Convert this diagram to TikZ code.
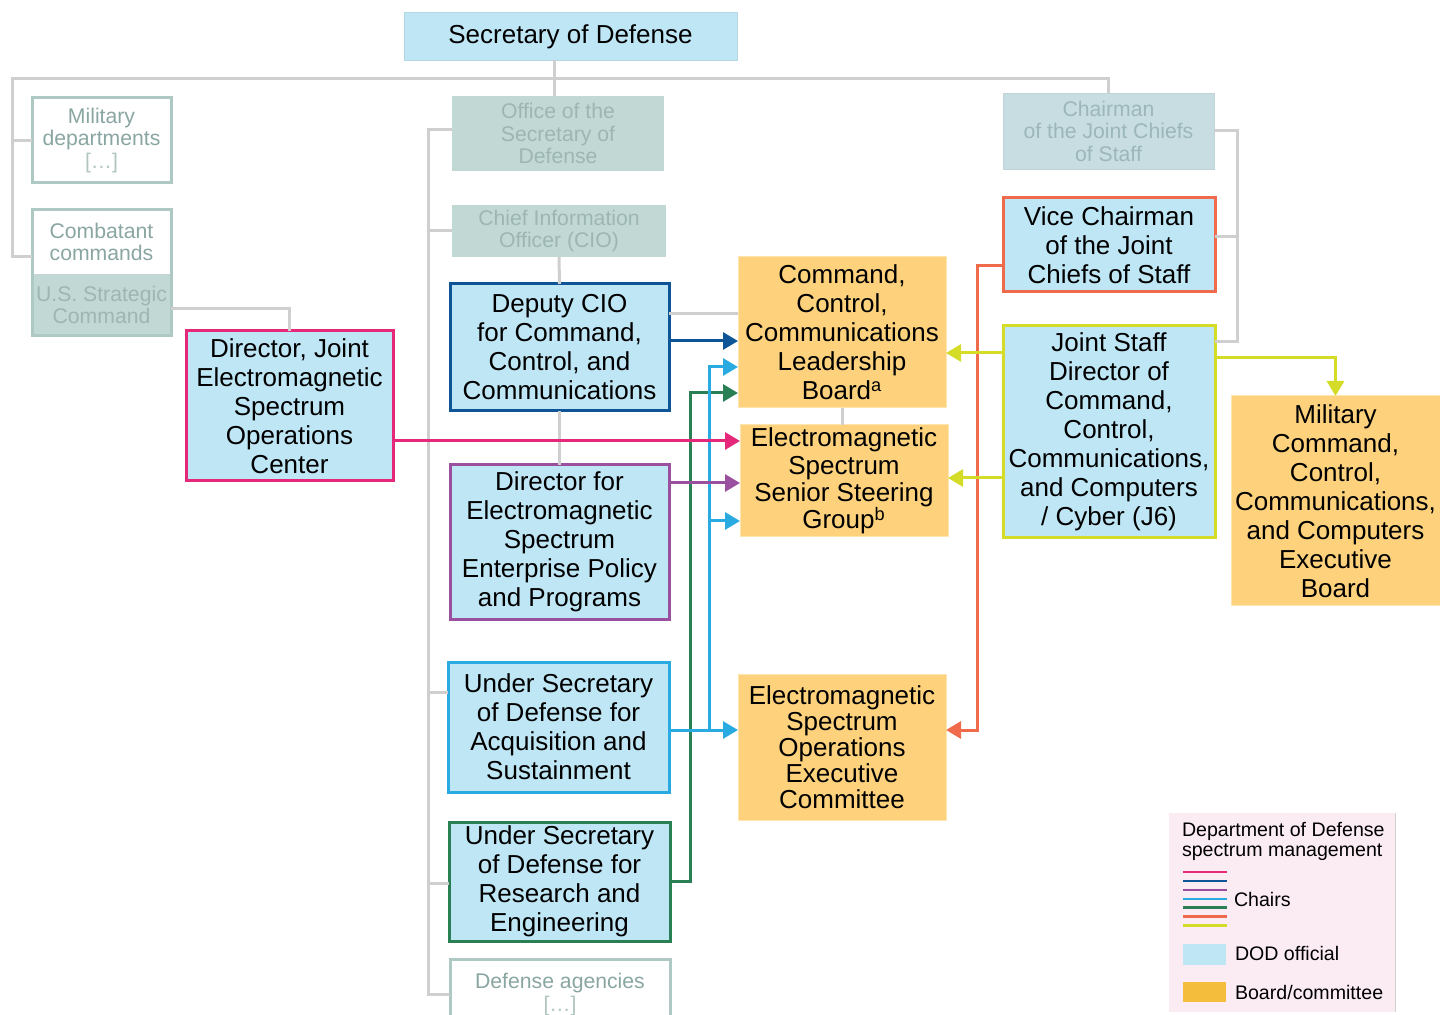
\documentclass[tikz,border=0pt]{standalone}
\usepackage{fontspec}
\setmainfont{Liberation Sans}
\usetikzlibrary{arrows.meta}
\definecolor{dodblue}{HTML}{BFE6F5}
\definecolor{boardor}{HTML}{FED27C}
\definecolor{legor}{HTML}{F4BE3C}
\definecolor{cpink}{HTML}{E6287B}
\definecolor{cdblue}{HTML}{0D5597}
\definecolor{cpurple}{HTML}{9A4F9F}
\definecolor{clblue}{HTML}{29AAE1}
\definecolor{cgreen}{HTML}{2B7F55}
\definecolor{corange}{HTML}{EF6B4B}
\definecolor{cyellow}{HTML}{D4DC28}
\definecolor{glline}{HTML}{CFCFCF}
\definecolor{gborder}{HTML}{AEC8C4}
\definecolor{gfill}{HTML}{C2D8D5}
\definecolor{gtext}{HTML}{8AA6A2}
\definecolor{gtextlt}{HTML}{9DB6B2}
\definecolor{cjfill}{HTML}{C7DDE1}
\definecolor{cjtext}{HTML}{9CB6BA}
\definecolor{legbg}{HTML}{FBECF3}
\begin{document}
\begin{tikzpicture}[x=0.5pt,y=-0.5pt,
  every node/.style={inner sep=0pt, outer sep=0pt, align=center},
  sz/.style 2 args={minimum width=#1*0.5pt, minimum height=#2*0.5pt},
  mainfont/.style={font=\fontsize{13}{14.5}\selectfont},
  grayfont/.style={font=\fontsize{10.6}{11.25}\selectfont},
  legfont/.style={font=\fontsize{9.8}{10}\selectfont},
  official/.style={mainfont, fill=dodblue, draw=#1, line width=1.5pt, text=black},
  board/.style={mainfont, fill=boardor, draw=boardor!60!white, line width=0.5pt, text=black},
  grayoff/.style={grayfont, fill=gfill, text=gtextlt},
  grayout/.style={grayfont, fill=white, draw=gborder, line width=1.5pt, text=gtext},
  orgline/.style={draw=glline, line width=1.5pt},
  chair/.style={draw=#1, color=#1, line width=1.5pt, -{Triangle[length=7.5pt,width=8.5pt]}},
  legline/.style={draw=#1, line width=1.4pt}
]
\useasboundingbox (0,0) rectangle (1440,1015);

% ---------- nodes ----------
\node[mainfont, fill=dodblue, draw=dodblue!85!gray, line width=0.5pt, sz={333}{48}] (sec) at (570.5,36.5) {Secretary of Defense};

\node[grayout, sz={139}{85}] (mil) at (101.5,140.5) {Military\\departments\\\textcolor{gtextlt!80!white}{[…]}};
\node[grayfont, fill=white, text=gtext, sz={139}{64}] (comb) at (101.5,242) {Combatant\\commands};
\node[grayfont, fill=gfill, text=gtextlt, sz={139}{62}] (ussc) at (101.5,305) {U.S. Strategic\\Command};
\draw[draw=gborder, line width=1.5pt] (comb.north west) rectangle (ussc.south east);

\node[official=cpink, sz={207}{150}] (djems) at (289.5,406) {Director, Joint\\Electromagnetic\\Spectrum\\Operations\\Center};

\node[grayoff, sz={212}{75}] (osd) at (558,133.5) {Office of the\\Secretary of\\Defense};
\node[grayfont, fill=cjfill, text=cjtext, draw=cjfill!90!gray, line width=0.4pt, sz={211}{76}] (cjcs) at (1108.5,131) {Chairman\\of the Joint Chiefs\\of Staff};
\node[grayoff, sz={214}{52}] (cio) at (559,231) {Chief Information\\Officer (CIO)};

\node[official=cdblue, sz={219}{127}] (dcio) at (559.5,347.5) {Deputy CIO\\for Command,\\Control, and\\Communications};
\node[official=cpurple, sz={219}{154}] (demsepp) at (559.5,542) {Director for\\Electromagnetic\\Spectrum\\Enterprise Policy\\and Programs};
\node[official=clblue, sz={221}{130}] (usdas) at (558.5,727) {Under Secretary\\of Defense for\\Acquisition and\\Sustainment};
\node[official=cgreen, sz={221}{119}] (usdre) at (559.5,881.5) {Under Secretary\\of Defense for\\Research and\\Engineering};
\node[grayout, sz={220}{71}] (dag) at (560,994.5) {Defense agencies\\\textcolor{gtextlt!80!white}{[…]}};

\node[board, sz={208}{151}] (c3lb) at (842,332.5) {Command,\\Control,\\Communications\\Leadership\\Board\textsuperscript{a}};
\node[board, font=\fontsize{13}{13.7}\selectfont, sz={208}{112}] (emsssg) at (844,481) {Electromagnetic\\Spectrum\\Senior Steering\\Group\textsuperscript{b}};
\node[board, font=\fontsize{13}{13}\selectfont, sz={208}{146}] (emsoec) at (842,747) {Electromagnetic\\Spectrum\\Operations\\Executive\\Committee};

\node[official=corange, sz={212}{94}] (vcjcs) at (1109,245) {Vice Chairman\\of the Joint\\Chiefs of Staff};
\node[official=cyellow, sz={212}{212}] (j6) at (1109,432) {Joint Staff\\Director of\\Command,\\Control,\\Communications,\\and Computers\\/ Cyber (J6)};
\node[board, sz={209}{210}] (mc4eb) at (1335.5,501) {Military\\Command,\\Control,\\Communications,\\and Computers\\Executive\\Board};

% ---------- organisational (gray) lines ----------
\coordinate (tL) at (12,79);
\coordinate (tM) at (554,79);
\coordinate (cb) at (32,257);
\coordinate (oL) at (428,130);
\coordinate (cR) at (1237,131);
\draw[orgline] (mil.west) -| (tL) -| (cjcs.north);
\draw[orgline] (tL) |- (cb);
\draw[orgline] (tM |- sec.south) -- (tM |- osd.north);
\draw[orgline] (ussc.east |- 0,309) -| (djems.north);
\draw[orgline] (osd.west |- oL) -| (oL |- dag.west) -- (dag.west);
\draw[orgline] (oL |- cio.west) -- (cio.west);
\draw[orgline] (oL |- 0,692) -- (usdas.west |- 0,692);
\draw[orgline] (oL |- 0,883) -- (usdre.west |- 0,883);
\draw[orgline] (cio.south) -- (dcio.north);
\draw[orgline] (dcio.south) -- (demsepp.north);
\draw[orgline] (dcio.east |- 0,314) -- (c3lb.west |- 0,314);
\draw[orgline] (c3lb.south) -- (c3lb.south |- emsssg.north);
\draw[orgline] (cjcs.east) -| (cR |- 0,342) -- (j6.east |- 0,342);
\draw[orgline] (cR |- 0,237) -- (vcjcs.east |- 0,237);

% ---------- chair arrows ----------
\coordinate (gj) at (690,393);
\coordinate (bj) at (709,730);
\coordinate (oj) at (977,266);
\draw[chair=cgreen] (usdre.east |- 0,881) -| (gj) -- (c3lb.west |- gj);
\draw[chair=clblue] (usdas.east |- bj) -- (emsoec.west |- bj);
\draw[chair=clblue] (bj) |- (c3lb.west |- 0,367);
\draw[chair=clblue] (bj |- 0,521) -- (emsssg.west |- 0,521);
\draw[chair=cdblue] (dcio.east |- 0,341) -- (c3lb.west |- 0,341);
\draw[chair=cpink] (djems.east |- 0,441) -- (emsssg.west |- 0,441);
\draw[chair=cpurple] (demsepp.east |- 0,483) -- (emsssg.west |- 0,483);
\draw[chair=corange] (vcjcs.west |- oj) -- (oj) |- (emsoec.east |- 0,730);
\draw[chair=cyellow] (j6.west |- 0,353) -- (c3lb.east |- 0,353);
\draw[chair=cyellow] (j6.west |- 0,478) -- (emsssg.east |- 0,478);
\draw[chair=cyellow] (j6.east |- 0,358) -| (mc4eb.north);

% ---------- legend ----------
\fill[legbg] (1169,813) rectangle (1395,1012);
\draw[glline, line width=0.5pt] (1395,813) -- (1395,1012);
\node[legfont, anchor=north west, align=left] (legt) at (1182,822) {Department of Defense\\spectrum management};
\foreach \c/\yy in {cpink/872, cdblue/881, cpurple/890, clblue/899, cgreen/907.7, corange/916.3, cyellow/925.3}
  \draw[legline=\c] (1183,\yy) -- (1227,\yy);
\node[legfont, anchor=west] (lch) at (1234,899) {Chairs};
\fill[dodblue] (1183,944) rectangle (1226,965);
\node[legfont, anchor=west] (ldod) at (1235,953) {DOD official};
\fill[legor] (1183,982) rectangle (1226,1002);
\node[legfont, anchor=west] (lbc) at (1235,992) {Board/committee};
\end{tikzpicture}
\end{document}
